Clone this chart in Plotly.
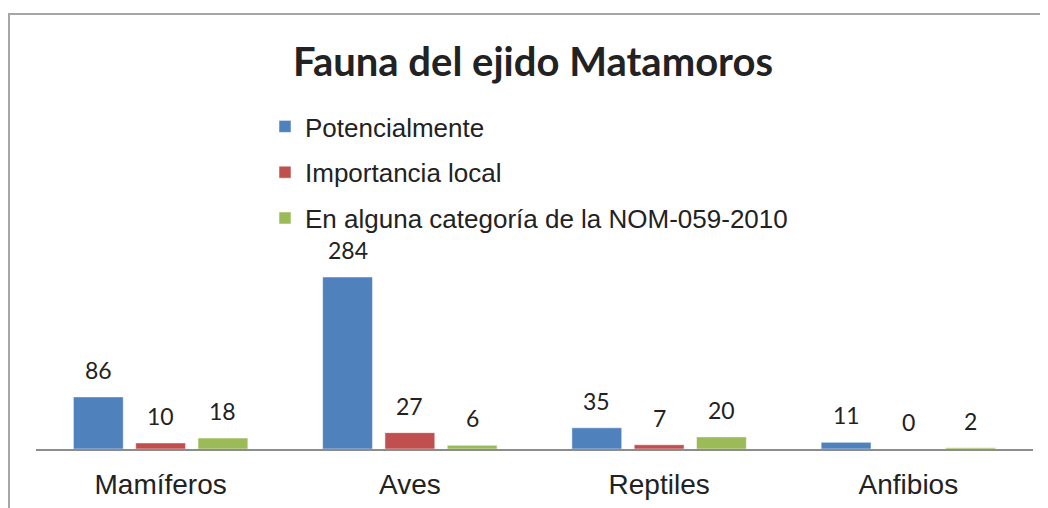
import plotly.graph_objects as go

categories = ["Mamíferos", "Aves", "Reptiles", "Anfibios"]
series_names = ["Potencialmente", "Importancia local", "En alguna categoría de la NOM-059-2010"]
potencialmente = [86, 284, 35, 11]
importancia_local = [10, 27, 7, 0]
nom_059 = [18, 6, 20, 2]
series_values = [potencialmente, importancia_local, nom_059]
colors = ["#4F81BD", "#C0504D", "#9BBB59"]
title_text = "Fauna del ejido Matamoros"

offsets = [-0.25, 0.0, 0.25]
bar_width = 0.2
xpos = list(range(len(categories)))

fig = go.Figure()
annotations = []
for i, (name, vals) in enumerate(zip(series_names, series_values)):
    xs = [x + offsets[i] for x in xpos]
    fig.add_trace(go.Bar(
        x=xs, y=vals, name=name, width=bar_width,
        marker=dict(color=colors[i], line=dict(color="rgba(255,255,255,0.5)", width=1)),
        legendgroup=f"g{i}",
    ))
    for xv, yv in zip(xs, vals):
        annotations.append(dict(
            x=xv, y=yv, xref="x", yref="y", text=str(yv), showarrow=False,
            yanchor="middle", yshift=27,
            font=dict(family="Lato", size=23, color="#222222"),
        ))

# page body has an 8px margin; lay out in figure coordinates = screen - 8
OFF = 8
W, H = 1048 - OFF, 508 - OFF
L, R, T, B = 36 - OFF, W - (1033 - OFF), 12, H - (449 - OFF)
PW, PH = W - L - R, H - T - B

fig.update_layout(
    width=W, height=H,
    margin=dict(l=L, r=R, t=T, b=B, pad=0, autoexpand=False),
    paper_bgcolor="white", plot_bgcolor="white",
    barmode="overlay",
    title=dict(text=f"<b>{title_text}</b>", x=(525) / W, xanchor="center",
               y=1 - 54 / H, yanchor="middle", xref="container", yref="container",
               font=dict(family="Lato", size=40, color="#222222")),
    showlegend=True,
    legend=dict(xref="paper", yref="paper", x=(257 - L) / PW, y=(H - B - 95) / PH,
                xanchor="left", yanchor="top", traceorder="grouped", tracegroupgap=9,
                font=dict(family="Liberation Sans", size=26, color="#222222"),
                bgcolor="rgba(0,0,0,0)"),
    xaxis=dict(range=[-0.5, len(categories) - 0.5], tickvals=xpos, ticktext=categories,
               showline=True, linecolor="#8c8c8c", linewidth=2, showgrid=False,
               zeroline=False, ticks="outside", ticklen=9, tickcolor="rgba(0,0,0,0)",
               tickfont=dict(family="Liberation Sans", size=28, color="#222222"),
               tickangle=0, fixedrange=True),
    yaxis=dict(range=[0, PH / (172 / 284)], visible=False, fixedrange=True),
    annotations=annotations,
    shapes=[dict(type="rect", xref="paper", yref="paper",
                 x0=(1 - L) / PW, x1=(W + 20 - L) / PW,
                 y0=-(B + 20) / PH, y1=(H - (14 - OFF) - B) / PH,
                 line=dict(color="#a6a6a6", width=2), fillcolor="rgba(0,0,0,0)", layer="below")],
)

fig.write_html("out.html")
